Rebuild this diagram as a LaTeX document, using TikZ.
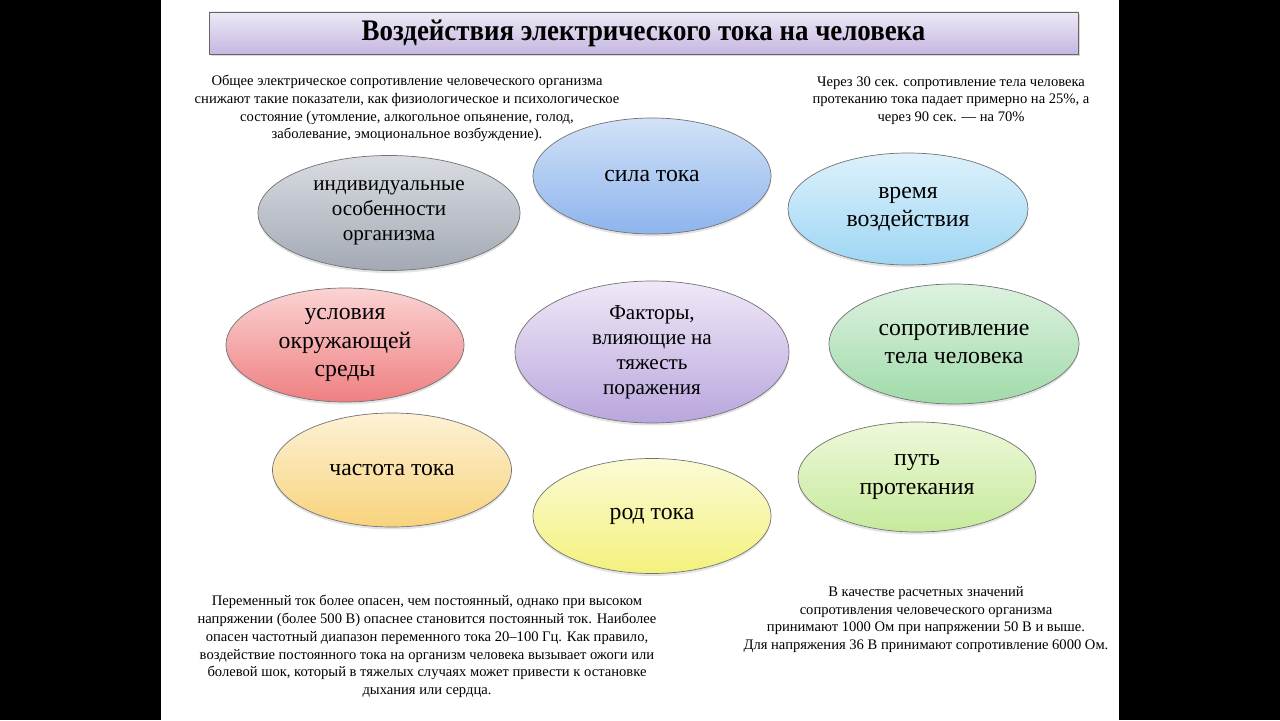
\documentclass[tikz,border=0pt]{standalone}
\usepackage{fontspec}
\setmainfont{Liberation Serif}
\usepackage{graphicx}
\usepackage{tikz}
\usetikzlibrary{shapes.geometric,shadows}

\definecolor{grayTop}{HTML}{D9DCE2}
\definecolor{grayBot}{HTML}{A3A9B4}
\definecolor{blueTop}{HTML}{D2E2F8}
\definecolor{blueBot}{HTML}{8DB4EC}
\definecolor{skyTop}{HTML}{DDF1FB}
\definecolor{skyBot}{HTML}{9ED6F4}
\definecolor{redTop}{HTML}{FBD3D3}
\definecolor{redBot}{HTML}{EF7F81}
\definecolor{lilTop}{HTML}{EFE8F7}
\definecolor{lilBot}{HTML}{B9A6DD}
\definecolor{grnTop}{HTML}{DDF2E0}
\definecolor{grnBot}{HTML}{A0DBA9}
\definecolor{orTop}{HTML}{FDF1D6}
\definecolor{orBot}{HTML}{F8D37C}
\definecolor{ylwTop}{HTML}{FBFBD6}
\definecolor{ylwBot}{HTML}{F4F17C}
\definecolor{limTop}{HTML}{EEF8D9}
\definecolor{limBot}{HTML}{C6EA9C}
\definecolor{ttlTop}{HTML}{EEE9F6}
\definecolor{ttlBot}{HTML}{C5B7E1}

\begin{document}
\begin{tikzpicture}[
    fac/.style   = {ellipse, draw=black!55, line width=0.4pt, inner sep=0pt,
                    align=center, font=\fontsize{13.5}{16.2}\selectfont,
                    drop shadow={opacity=0.22, shadow xshift=0pt, shadow yshift=-0.05cm}},
    facsm/.style = {fac, font=\fontsize{12}{14.2}\selectfont},
    note/.style  = {align=center, inner sep=0pt, font=\fontsize{8.3}{10.1}\selectfont},
    ttl/.style   = {rectangle, draw=black!60, top color=ttlTop, bottom color=ttlBot,
                    minimum width=17.38cm, minimum height=0.84cm, inner sep=0pt,
                    drop shadow={opacity=0.3, shadow xshift=0.04cm, shadow yshift=-0.05cm}},
  ]
  % letterbox and slide
  \fill[black] (0,0) rectangle (25.6,14.4);
  \fill[white] (3.22,0) rectangle (22.38,14.4);
  % title
  \node[ttl] (title) at (12.87,13.74)
    {\scalebox{0.9}[1]{\fontsize{17}{20}\selectfont\bfseries Воздействия электрического тока на человека}};
  % factors
  \node[facsm, top color=grayTop, bottom color=grayBot, minimum width=5.24cm, minimum height=2.30cm]
    (indiv) at (7.78,10.14) {индивидуальные\\особенности\\организма};
  \node[fac, top color=blueTop, bottom color=blueBot, minimum width=4.76cm, minimum height=2.32cm]
    (sila) at (13.04,10.88) {сила тока};
  \node[fac, top color=skyTop, bottom color=skyBot, minimum width=4.80cm, minimum height=2.24cm]
    (vremya) at (18.16,10.22) {время\\воздействия};
  \node[fac, top color=redTop, bottom color=redBot, minimum width=4.76cm, minimum height=2.28cm]
    (usl) at (6.90,7.50) {условия\\окружающей\\среды};
  \node[facsm, top color=lilTop, bottom color=lilBot, minimum width=5.48cm, minimum height=2.84cm]
    (factors) at (13.04,7.36) {Факторы,\\влияющие на\\тяжесть\\поражения};
  \node[fac, top color=grnTop, bottom color=grnBot, minimum width=5.00cm, minimum height=2.40cm]
    (sopr) at (19.08,7.52) {сопротивление\\тела человека};
  \node[fac, top color=orTop, bottom color=orBot, minimum width=4.78cm, minimum height=2.28cm]
    (chast) at (7.84,5.00) {частота тока};
  \node[fac, top color=ylwTop, bottom color=ylwBot, minimum width=4.76cm, minimum height=2.30cm]
    (rod) at (13.04,4.08) {род тока};
  \node[fac, top color=limTop, bottom color=limBot, minimum width=4.76cm, minimum height=2.20cm]
    (put) at (18.34,4.86) {путь\\протекания};
  % notes
  \node[note] (noteTL) at (8.14,12.23)
    {Общее электрическое сопротивление человеческого организма\\
     снижают такие показатели, как физиологическое и психологическое\\
     состояние (утомление, алкогольное опьянение, голод,\\
     заболевание, эмоциональное возбуждение).};
  \node[note] (noteTR) at (19.02,12.39)
    {Через 30 сек. сопротивление тела человека\\
     протеканию тока падает примерно на 25\%, а\\
     через 90 сек. — на 70\%};
  \node[note] (noteBL) at (8.54,1.47)
    {Переменный ток более опасен, чем постоянный, однако при высоком\\
     напряжении (более 500 В) опаснее становится постоянный ток. Наиболее\\
     опасен частотный диапазон переменного тока 20–100 Гц. Как правило,\\
     воздействие постоянного тока на организм человека вызывает ожоги или\\
     болевой шок, который в тяжелых случаях может привести к остановке\\
     дыхания или сердца.};
  \node[note] (noteBR) at (18.52,2.01)
    {В качестве расчетных значений\\
     сопротивления человеческого организма\\
     принимают 1000 Ом при напряжении 50 В и выше.\\
     Для напряжения 36 В принимают сопротивление 6000 Ом.};
\end{tikzpicture}
\end{document}
